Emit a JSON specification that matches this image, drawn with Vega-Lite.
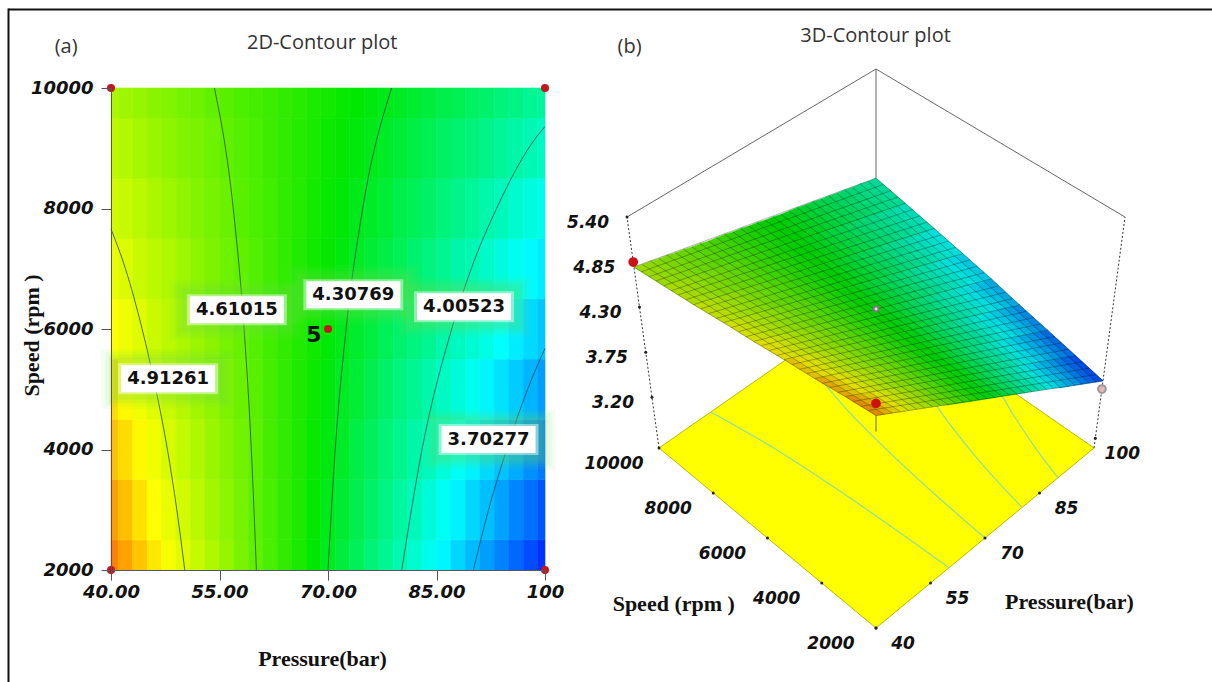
{
"$schema":"https://vega.github.io/schema/vega-lite/v6.json",
"width":1212,"height":682,"autosize":"none","padding":0,"background":"white",
"view":{"stroke":null},
"config":{"axis":{"grid":false},"style":{"cell":{"stroke":null}}},
"datasets":{
"nodes":[
{"p":40,"s":2000,"z":5.22},{"p":40,"s":3000,"z":5.17},{"p":40,"s":4000,"z":5.11},{"p":40,"s":5000,"z":5.06},{"p":40,"s":6000,"z":5.00},{"p":40,"s":7000,"z":4.95},{"p":40,"s":8000,"z":4.89},{"p":40,"s":9000,"z":4.84},{"p":40,"s":10000,"z":4.79},
{"p":42,"s":2000,"z":5.16},{"p":42,"s":3000,"z":5.11},{"p":42,"s":4000,"z":5.06},{"p":42,"s":5000,"z":5.01},{"p":42,"s":6000,"z":4.96},{"p":42,"s":7000,"z":4.91},{"p":42,"s":8000,"z":4.86},{"p":42,"s":9000,"z":4.81},{"p":42,"s":10000,"z":4.76},
{"p":44,"s":2000,"z":5.10},{"p":44,"s":3000,"z":5.05},{"p":44,"s":4000,"z":5.01},{"p":44,"s":5000,"z":4.96},{"p":44,"s":6000,"z":4.92},{"p":44,"s":7000,"z":4.87},{"p":44,"s":8000,"z":4.83},{"p":44,"s":9000,"z":4.78},{"p":44,"s":10000,"z":4.74},
{"p":46,"s":2000,"z":5.04},{"p":46,"s":3000,"z":5.00},{"p":46,"s":4000,"z":4.96},{"p":46,"s":5000,"z":4.92},{"p":46,"s":6000,"z":4.87},{"p":46,"s":7000,"z":4.83},{"p":46,"s":8000,"z":4.79},{"p":46,"s":9000,"z":4.75},{"p":46,"s":10000,"z":4.71},
{"p":48,"s":2000,"z":4.98},{"p":48,"s":3000,"z":4.94},{"p":48,"s":4000,"z":4.90},{"p":48,"s":5000,"z":4.87},{"p":48,"s":6000,"z":4.83},{"p":48,"s":7000,"z":4.80},{"p":48,"s":8000,"z":4.76},{"p":48,"s":9000,"z":4.72},{"p":48,"s":10000,"z":4.69},
{"p":50,"s":2000,"z":4.92},{"p":50,"s":3000,"z":4.89},{"p":50,"s":4000,"z":4.85},{"p":50,"s":5000,"z":4.82},{"p":50,"s":6000,"z":4.79},{"p":50,"s":7000,"z":4.76},{"p":50,"s":8000,"z":4.73},{"p":50,"s":9000,"z":4.69},{"p":50,"s":10000,"z":4.66},
{"p":52,"s":2000,"z":4.86},{"p":52,"s":3000,"z":4.83},{"p":52,"s":4000,"z":4.80},{"p":52,"s":5000,"z":4.77},{"p":52,"s":6000,"z":4.75},{"p":52,"s":7000,"z":4.72},{"p":52,"s":8000,"z":4.69},{"p":52,"s":9000,"z":4.67},{"p":52,"s":10000,"z":4.64},
{"p":54,"s":2000,"z":4.80},{"p":54,"s":3000,"z":4.77},{"p":54,"s":4000,"z":4.75},{"p":54,"s":5000,"z":4.73},{"p":54,"s":6000,"z":4.71},{"p":54,"s":7000,"z":4.68},{"p":54,"s":8000,"z":4.66},{"p":54,"s":9000,"z":4.64},{"p":54,"s":10000,"z":4.61},
{"p":56,"s":2000,"z":4.74},{"p":56,"s":3000,"z":4.72},{"p":56,"s":4000,"z":4.70},{"p":56,"s":5000,"z":4.68},{"p":56,"s":6000,"z":4.66},{"p":56,"s":7000,"z":4.64},{"p":56,"s":8000,"z":4.63},{"p":56,"s":9000,"z":4.61},{"p":56,"s":10000,"z":4.59},
{"p":58,"s":2000,"z":4.67},{"p":58,"s":3000,"z":4.66},{"p":58,"s":4000,"z":4.65},{"p":58,"s":5000,"z":4.63},{"p":58,"s":6000,"z":4.62},{"p":58,"s":7000,"z":4.61},{"p":58,"s":8000,"z":4.59},{"p":58,"s":9000,"z":4.58},{"p":58,"s":10000,"z":4.56},
{"p":60,"s":2000,"z":4.61},{"p":60,"s":3000,"z":4.60},{"p":60,"s":4000,"z":4.60},{"p":60,"s":5000,"z":4.59},{"p":60,"s":6000,"z":4.58},{"p":60,"s":7000,"z":4.57},{"p":60,"s":8000,"z":4.56},{"p":60,"s":9000,"z":4.55},{"p":60,"s":10000,"z":4.54},
{"p":62,"s":2000,"z":4.55},{"p":62,"s":3000,"z":4.55},{"p":62,"s":4000,"z":4.54},{"p":62,"s":5000,"z":4.54},{"p":62,"s":6000,"z":4.53},{"p":62,"s":7000,"z":4.53},{"p":62,"s":8000,"z":4.53},{"p":62,"s":9000,"z":4.52},{"p":62,"s":10000,"z":4.52},
{"p":64,"s":2000,"z":4.49},{"p":64,"s":3000,"z":4.49},{"p":64,"s":4000,"z":4.49},{"p":64,"s":5000,"z":4.49},{"p":64,"s":6000,"z":4.49},{"p":64,"s":7000,"z":4.49},{"p":64,"s":8000,"z":4.49},{"p":64,"s":9000,"z":4.49},{"p":64,"s":10000,"z":4.49},
{"p":66,"s":2000,"z":4.43},{"p":66,"s":3000,"z":4.44},{"p":66,"s":4000,"z":4.44},{"p":66,"s":5000,"z":4.44},{"p":66,"s":6000,"z":4.45},{"p":66,"s":7000,"z":4.45},{"p":66,"s":8000,"z":4.46},{"p":66,"s":9000,"z":4.46},{"p":66,"s":10000,"z":4.47},
{"p":68,"s":2000,"z":4.37},{"p":68,"s":3000,"z":4.38},{"p":68,"s":4000,"z":4.39},{"p":68,"s":5000,"z":4.40},{"p":68,"s":6000,"z":4.41},{"p":68,"s":7000,"z":4.41},{"p":68,"s":8000,"z":4.42},{"p":68,"s":9000,"z":4.43},{"p":68,"s":10000,"z":4.44},
{"p":70,"s":2000,"z":4.31},{"p":70,"s":3000,"z":4.32},{"p":70,"s":4000,"z":4.34},{"p":70,"s":5000,"z":4.35},{"p":70,"s":6000,"z":4.36},{"p":70,"s":7000,"z":4.38},{"p":70,"s":8000,"z":4.39},{"p":70,"s":9000,"z":4.40},{"p":70,"s":10000,"z":4.42},
{"p":72,"s":2000,"z":4.25},{"p":72,"s":3000,"z":4.27},{"p":72,"s":4000,"z":4.29},{"p":72,"s":5000,"z":4.30},{"p":72,"s":6000,"z":4.32},{"p":72,"s":7000,"z":4.34},{"p":72,"s":8000,"z":4.36},{"p":72,"s":9000,"z":4.38},{"p":72,"s":10000,"z":4.39},
{"p":74,"s":2000,"z":4.19},{"p":74,"s":3000,"z":4.21},{"p":74,"s":4000,"z":4.23},{"p":74,"s":5000,"z":4.26},{"p":74,"s":6000,"z":4.28},{"p":74,"s":7000,"z":4.30},{"p":74,"s":8000,"z":4.32},{"p":74,"s":9000,"z":4.35},{"p":74,"s":10000,"z":4.37},
{"p":76,"s":2000,"z":4.13},{"p":76,"s":3000,"z":4.16},{"p":76,"s":4000,"z":4.18},{"p":76,"s":5000,"z":4.21},{"p":76,"s":6000,"z":4.24},{"p":76,"s":7000,"z":4.26},{"p":76,"s":8000,"z":4.29},{"p":76,"s":9000,"z":4.32},{"p":76,"s":10000,"z":4.34},
{"p":78,"s":2000,"z":4.07},{"p":78,"s":3000,"z":4.10},{"p":78,"s":4000,"z":4.13},{"p":78,"s":5000,"z":4.16},{"p":78,"s":6000,"z":4.19},{"p":78,"s":7000,"z":4.23},{"p":78,"s":8000,"z":4.26},{"p":78,"s":9000,"z":4.29},{"p":78,"s":10000,"z":4.32},
{"p":80,"s":2000,"z":4.01},{"p":80,"s":3000,"z":4.04},{"p":80,"s":4000,"z":4.08},{"p":80,"s":5000,"z":4.11},{"p":80,"s":6000,"z":4.15},{"p":80,"s":7000,"z":4.19},{"p":80,"s":8000,"z":4.22},{"p":80,"s":9000,"z":4.26},{"p":80,"s":10000,"z":4.30},
{"p":82,"s":2000,"z":3.95},{"p":82,"s":3000,"z":3.99},{"p":82,"s":4000,"z":4.03},{"p":82,"s":5000,"z":4.07},{"p":82,"s":6000,"z":4.11},{"p":82,"s":7000,"z":4.15},{"p":82,"s":8000,"z":4.19},{"p":82,"s":9000,"z":4.23},{"p":82,"s":10000,"z":4.27},
{"p":84,"s":2000,"z":3.89},{"p":84,"s":3000,"z":3.93},{"p":84,"s":4000,"z":3.98},{"p":84,"s":5000,"z":4.02},{"p":84,"s":6000,"z":4.07},{"p":84,"s":7000,"z":4.11},{"p":84,"s":8000,"z":4.16},{"p":84,"s":9000,"z":4.20},{"p":84,"s":10000,"z":4.25},
{"p":86,"s":2000,"z":3.83},{"p":86,"s":3000,"z":3.87},{"p":86,"s":4000,"z":3.92},{"p":86,"s":5000,"z":3.97},{"p":86,"s":6000,"z":4.02},{"p":86,"s":7000,"z":4.07},{"p":86,"s":8000,"z":4.12},{"p":86,"s":9000,"z":4.17},{"p":86,"s":10000,"z":4.22},
{"p":88,"s":2000,"z":3.76},{"p":88,"s":3000,"z":3.82},{"p":88,"s":4000,"z":3.87},{"p":88,"s":5000,"z":3.93},{"p":88,"s":6000,"z":3.98},{"p":88,"s":7000,"z":4.03},{"p":88,"s":8000,"z":4.09},{"p":88,"s":9000,"z":4.14},{"p":88,"s":10000,"z":4.20},
{"p":90,"s":2000,"z":3.70},{"p":90,"s":3000,"z":3.76},{"p":90,"s":4000,"z":3.82},{"p":90,"s":5000,"z":3.88},{"p":90,"s":6000,"z":3.94},{"p":90,"s":7000,"z":4.00},{"p":90,"s":8000,"z":4.06},{"p":90,"s":9000,"z":4.12},{"p":90,"s":10000,"z":4.17},
{"p":92,"s":2000,"z":3.64},{"p":92,"s":3000,"z":3.71},{"p":92,"s":4000,"z":3.77},{"p":92,"s":5000,"z":3.83},{"p":92,"s":6000,"z":3.90},{"p":92,"s":7000,"z":3.96},{"p":92,"s":8000,"z":4.02},{"p":92,"s":9000,"z":4.09},{"p":92,"s":10000,"z":4.15},
{"p":94,"s":2000,"z":3.58},{"p":94,"s":3000,"z":3.65},{"p":94,"s":4000,"z":3.72},{"p":94,"s":5000,"z":3.79},{"p":94,"s":6000,"z":3.85},{"p":94,"s":7000,"z":3.92},{"p":94,"s":8000,"z":3.99},{"p":94,"s":9000,"z":4.06},{"p":94,"s":10000,"z":4.12},
{"p":96,"s":2000,"z":3.52},{"p":96,"s":3000,"z":3.59},{"p":96,"s":4000,"z":3.67},{"p":96,"s":5000,"z":3.74},{"p":96,"s":6000,"z":3.81},{"p":96,"s":7000,"z":3.88},{"p":96,"s":8000,"z":3.95},{"p":96,"s":9000,"z":4.03},{"p":96,"s":10000,"z":4.10},
{"p":98,"s":2000,"z":3.46},{"p":98,"s":3000,"z":3.54},{"p":98,"s":4000,"z":3.61},{"p":98,"s":5000,"z":3.69},{"p":98,"s":6000,"z":3.77},{"p":98,"s":7000,"z":3.84},{"p":98,"s":8000,"z":3.92},{"p":98,"s":9000,"z":4.00},{"p":98,"s":10000,"z":4.07},
{"p":100,"s":2000,"z":3.40},{"p":100,"s":3000,"z":3.48},{"p":100,"s":4000,"z":3.56},{"p":100,"s":5000,"z":3.64},{"p":100,"s":6000,"z":3.73},{"p":100,"s":7000,"z":3.81},{"p":100,"s":8000,"z":3.89},{"p":100,"s":9000,"z":3.97},{"p":100,"s":10000,"z":4.05}
],
"meshS":[
{"s":2000,"p":40,"z":5.22},{"s":2000,"p":100,"z":3.40},{"s":2250,"p":40,"z":5.21},{"s":2250,"p":100,"z":3.42},{"s":2500,"p":40,"z":5.19},{"s":2500,"p":100,"z":3.44},{"s":2750,"p":40,"z":5.18},{"s":2750,"p":100,"z":3.46},
{"s":3000,"p":40,"z":5.17},{"s":3000,"p":100,"z":3.48},{"s":3250,"p":40,"z":5.15},{"s":3250,"p":100,"z":3.50},{"s":3500,"p":40,"z":5.14},{"s":3500,"p":100,"z":3.52},{"s":3750,"p":40,"z":5.12},{"s":3750,"p":100,"z":3.54},
{"s":4000,"p":40,"z":5.11},{"s":4000,"p":100,"z":3.56},{"s":4250,"p":40,"z":5.10},{"s":4250,"p":100,"z":3.58},{"s":4500,"p":40,"z":5.08},{"s":4500,"p":100,"z":3.60},{"s":4750,"p":40,"z":5.07},{"s":4750,"p":100,"z":3.62},
{"s":5000,"p":40,"z":5.06},{"s":5000,"p":100,"z":3.64},{"s":5250,"p":40,"z":5.04},{"s":5250,"p":100,"z":3.66},{"s":5500,"p":40,"z":5.03},{"s":5500,"p":100,"z":3.68},{"s":5750,"p":40,"z":5.02},{"s":5750,"p":100,"z":3.70},
{"s":6000,"p":40,"z":5.00},{"s":6000,"p":100,"z":3.73},{"s":6250,"p":40,"z":4.99},{"s":6250,"p":100,"z":3.75},{"s":6500,"p":40,"z":4.98},{"s":6500,"p":100,"z":3.77},{"s":6750,"p":40,"z":4.96},{"s":6750,"p":100,"z":3.79},
{"s":7000,"p":40,"z":4.95},{"s":7000,"p":100,"z":3.81},{"s":7250,"p":40,"z":4.93},{"s":7250,"p":100,"z":3.83},{"s":7500,"p":40,"z":4.92},{"s":7500,"p":100,"z":3.85},{"s":7750,"p":40,"z":4.91},{"s":7750,"p":100,"z":3.87},
{"s":8000,"p":40,"z":4.89},{"s":8000,"p":100,"z":3.89},{"s":8250,"p":40,"z":4.88},{"s":8250,"p":100,"z":3.91},{"s":8500,"p":40,"z":4.87},{"s":8500,"p":100,"z":3.93},{"s":8750,"p":40,"z":4.85},{"s":8750,"p":100,"z":3.95},
{"s":9000,"p":40,"z":4.84},{"s":9000,"p":100,"z":3.97},{"s":9250,"p":40,"z":4.83},{"s":9250,"p":100,"z":3.99},{"s":9500,"p":40,"z":4.81},{"s":9500,"p":100,"z":4.01},{"s":9750,"p":40,"z":4.80},{"s":9750,"p":100,"z":4.03},
{"s":10000,"p":40,"z":4.79},{"s":10000,"p":100,"z":4.05}
],
"contours":[
{"L":4.91,"p":50.2,"s":2000},{"L":4.91,"p":49.1,"s":3000},{"L":4.91,"p":47.8,"s":4000},{"L":4.91,"p":46.2,"s":5000},{"L":4.91,"p":44.3,"s":6000},{"L":4.91,"p":42,"s":7000},{"L":4.91,"p":40,"s":7660},
{"L":4.61,"p":60.1,"s":2000},{"L":4.61,"p":59.4,"s":4000},{"L":4.61,"p":58.4,"s":6000},{"L":4.61,"p":56.9,"s":8000},{"L":4.61,"p":54.3,"s":10000},
{"L":4.31,"p":70,"s":2000},{"L":4.31,"p":71,"s":4000},{"L":4.31,"p":72.5,"s":6000},{"L":4.31,"p":74.8,"s":8000},{"L":4.31,"p":78.8,"s":10000},
{"L":4.0,"p":80.2,"s":2000},{"L":4.0,"p":83,"s":4000},{"L":4.0,"p":87.1,"s":6000},{"L":4.0,"p":89.8,"s":7000},{"L":4.0,"p":93.3,"s":8000},{"L":4.0,"p":98.9,"s":9200},{"L":4.0,"p":100,"s":9360},
{"L":3.7,"p":90.1,"s":2000},{"L":3.7,"p":92.2,"s":3000},{"L":3.7,"p":94.7,"s":4000},{"L":3.7,"p":97.6,"s":5000},{"L":3.7,"p":100,"s":5680}
],
"labels":[
{"p":47.9,"s":5176,"text":"4.91261"},{"p":57.4,"s":6320,"text":"4.61015"},{"p":73.5,"s":6568,"text":"4.30769"},{"p":88.8,"s":6370,"text":"4.00523"},{"p":92.2,"s":4165,"text":"3.70277"}
],
"design2d":[{"p":40,"s":2000},{"p":40,"s":10000},{"p":100,"s":2000},{"p":100,"s":10000},{"p":70,"s":6000}],
"design3d":[{"p":40,"s":2000,"z":5.37,"k":"a"},{"p":40,"s":10000,"z":4.85,"k":"a"},{"p":100,"s":2000,"z":3.30,"k":"b"},{"p":70,"s":6000,"z":4.38,"k":"c"}],
"floor":[{"p":40,"s":2000,"z":2.58,"c":0},{"p":100,"s":2000,"z":2.58,"c":1},{"p":100,"s":10000,"z":2.58,"c":2},{"p":40,"s":10000,"z":2.58,"c":3}],
"wire":[
{"e":"left","o":0,"p":40,"s":10000,"z":2.58},{"e":"left","o":1,"p":40,"s":10000,"z":5.4},
{"e":"right","o":0,"p":100,"s":2000,"z":2.58},{"e":"right","o":1,"p":100,"s":2000,"z":5.4}
],
"box":[
{"e":"topL","o":0,"p":40,"s":10000,"z":5.4},{"e":"topL","o":1,"p":100,"s":10000,"z":5.4},
{"e":"topR","o":0,"p":100,"s":2000,"z":5.4},{"e":"topR","o":1,"p":100,"s":10000,"z":5.4},
{"e":"back","o":0,"p":100,"s":10000,"z":5.4},{"e":"back","o":1,"p":100,"s":10000,"z":4.05},
{"e":"front","o":0,"p":40,"s":2000,"z":5.22},{"e":"front","o":1,"p":40,"s":2000,"z":5.02}
],
"speedTicks":[{"p":40,"s":2000,"z":2.58,"text":"2000"},{"p":40,"s":4000,"z":2.58,"text":"4000"},{"p":40,"s":6000,"z":2.58,"text":"6000"},{"p":40,"s":8000,"z":2.58,"text":"8000"},{"p":40,"s":10000,"z":2.58,"text":"10000"}],
"pressTicks":[{"p":40,"s":2000,"z":2.58,"text":"40"},{"p":55,"s":2000,"z":2.58,"text":"55"},{"p":70,"s":2000,"z":2.58,"text":"70"},{"p":85,"s":2000,"z":2.58,"text":"85"},{"p":100,"s":2000,"z":2.7,"text":"100"}],
"zTicks":[{"p":40,"s":10000,"z":5.4,"text":"5.40"},{"p":40,"s":10000,"z":4.85,"text":"4.85"},{"p":40,"s":10000,"z":4.3,"text":"4.30"},{"p":40,"s":10000,"z":3.75,"text":"3.75"},{"p":40,"s":10000,"z":3.2,"text":"3.20"}],
"annotSans":[{"p":33.8,"s":10680,"text":"(a)"},{"p":69.2,"s":10747,"text":"2D-Contour plot"},{"p":111.7,"s":10680,"text":"(b)"},{"p":145.7,"s":10863,"text":"3D-Contour plot"}],
"annotSerif":[{"p":117.8,"s":1436,"text":"Speed (rpm )"},{"p":172.5,"s":1469,"text":"Pressure(bar)"}],
"five":[{"p":68.06,"s":5900,"text":"5"}]
},
"layer":[
{
"layer":[
{"data":{"name":"nodes"},
 "transform":[{"calculate":"max(40,datum.p-1)","as":"x0"},{"calculate":"min(100,datum.p+1)","as":"x1"},{"calculate":"max(2000,datum.s-500)","as":"y0"},{"calculate":"min(10000,datum.s+500)","as":"y1"}],
 "mark":{"type":"rect","strokeWidth":0.6},
 "encoding":{
  "x":{"field":"x0","type":"quantitative","scale":{"domain":[40,100],"range":[111,545],"nice":false,"zero":false},
   "axis":{"orient":"bottom","offset":-112,"zindex":1,"title":"Pressure(bar)","titleFont":"Liberation Serif","titleFontSize":22,"titleFontWeight":"bold","titleColor":"#111","titlePadding":47,"titleX":322,"values":[40,55,70,85,100],"labelExpr":"datum.value==100?'100':format(datum.value,'.2f')","labelFont":"DejaVu Sans","labelFontStyle":"italic","labelFontWeight":"bold","labelFontSize":18,"labelColor":"#111","labelPadding":3,"tickSize":10,"tickColor":"#555","domainColor":"#556","labelFlush":false,"labelOverlap":false}},
  "x2":{"field":"x1"},
  "y":{"field":"y0","type":"quantitative","scale":{"domain":[2000,10000],"range":[570,88],"nice":false,"zero":false},
   "axis":{"orient":"left","offset":-111,"zindex":1,"title":"Speed (rpm )","titleFont":"Liberation Serif","titleFontSize":22,"titleFontWeight":"bold","titleColor":"#111","titlePadding":-13,"titleY":335,"values":[2000,4000,6000,8000,10000],"format":"d","labelFont":"DejaVu Sans","labelFontStyle":"italic","labelFontWeight":"bold","labelFontSize":18,"labelColor":"#111","labelPadding":8,"tickSize":10,"tickColor":"#555","domainColor":"#556","labelOverlap":false}},
  "y2":{"field":"y1"},
  "color":{"field":"z","type":"quantitative","legend":null,"scale":{"domain":[3.4,3.85,4.37,5.0,5.44],"range":["#0030ff","#00ffff","#00e800","#ffff00","#ff0000"],"interpolate":"rgb"}},
  "stroke":{"field":"z","type":"quantitative","legend":null,"scale":{"domain":[3.4,3.85,4.37,5.0,5.44],"range":["#0030ff","#00ffff","#00e800","#ffff00","#ff0000"],"interpolate":"rgb"}}
 }},
{"data":{"name":"contours"},
 "mark":{"type":"line","interpolate":"monotone","stroke":"#2c4a55","strokeWidth":1,"opacity":0.8},
 "encoding":{"x":{"field":"p","type":"quantitative","scale":{"domain":[40,100],"range":[111,545],"nice":false,"zero":false}},"y":{"field":"s","type":"quantitative","scale":{"domain":[2000,10000],"range":[570,88],"nice":false,"zero":false}},"detail":{"field":"L"},"order":{"field":"s"}}},
{"data":{"name":"labels"},
 "encoding":{"x":{"field":"p","type":"quantitative","scale":{"domain":[40,100],"range":[111,545],"nice":false,"zero":false}},"y":{"field":"s","type":"quantitative","scale":{"domain":[2000,10000],"range":[570,88],"nice":false,"zero":false}}},
 "layer":[
  {"mark":{"type":"rect","width":134,"height":60,"fill":"#6fdc4a","opacity":0.07}},
  {"mark":{"type":"rect","width":126,"height":54,"fill":"#6fdc4a","opacity":0.09}},
  {"mark":{"type":"rect","width":118,"height":48,"fill":"#6fdc4a","opacity":0.11}},
  {"mark":{"type":"rect","width":110,"height":42,"fill":"#6fdc4a","opacity":0.13}},
  {"mark":{"type":"rect","width":100,"height":31,"fill":"#ffffff","opacity":0.45}},
  {"mark":{"type":"rect","width":94,"height":27,"fill":"#ffffff"}},
  {"mark":{"type":"text","font":"DejaVu Sans","fontWeight":"bold","fontSize":18,"fill":"#111"},"encoding":{"text":{"field":"text"}}}
 ]},
{"data":{"name":"design2d"},
 "mark":{"type":"point","filled":true,"size":64,"fill":"#c4161c","opacity":1},
 "encoding":{"x":{"field":"p","type":"quantitative","scale":{"domain":[40,100],"range":[111,545],"nice":false,"zero":false}},"y":{"field":"s","type":"quantitative","scale":{"domain":[2000,10000],"range":[570,88],"nice":false,"zero":false}}}},
{"data":{"name":"five"},
 "mark":{"type":"text","font":"DejaVu Sans","fontWeight":"bold","fontSize":22,"fill":"#111"},
 "encoding":{"x":{"field":"p","type":"quantitative","scale":{"domain":[40,100],"range":[111,545],"nice":false,"zero":false}},"y":{"field":"s","type":"quantitative","scale":{"domain":[2000,10000],"range":[570,88],"nice":false,"zero":false}},"text":{"field":"text"}}},
{"data":{"name":"annotSans"},
 "mark":{"type":"text","font":"Open Sans","fontSize":20,"fill":"#333"},
 "encoding":{"x":{"field":"p","type":"quantitative","scale":{"domain":[40,100],"range":[111,545],"nice":false,"zero":false}},"y":{"field":"s","type":"quantitative","scale":{"domain":[2000,10000],"range":[570,88],"nice":false,"zero":false}},"text":{"field":"text"}}},
{"data":{"name":"annotSerif"},
 "mark":{"type":"text","font":"Liberation Serif","fontWeight":"bold","fontSize":22,"fill":"#111"},
 "encoding":{"x":{"field":"p","type":"quantitative","scale":{"domain":[40,100],"range":[111,545],"nice":false,"zero":false}},"y":{"field":"s","type":"quantitative","scale":{"domain":[2000,10000],"range":[570,88],"nice":false,"zero":false}},"text":{"field":"text"}}}
]},
{
"encoding":{
 "x":{"field":"sx","type":"quantitative","scale":{"domain":[8,1212],"range":[8,1212],"nice":false,"zero":false}},
 "y":{"field":"sy","type":"quantitative","scale":{"domain":[8,682],"range":[8,682],"nice":false,"zero":false}}
},
"layer":[
{"data":{"name":"floor"},
 "transform":[{"calculate":"(datum.p-40)/60","as":"u"},{"calculate":"(datum.s-2000)/8000","as":"t"},{"calculate":"(datum.z-2.58)/2.82","as":"h"},{"calculate":"876-217*datum.t+218*datum.u-datum.u*datum.t+datum.h*(-32*datum.t+31*datum.u+datum.u*datum.t)","as":"sx"},{"calculate":"628-180*datum.t-180*datum.u+29*datum.u*datum.t+datum.h*(-227-4*datum.t-4*datum.u+7*datum.u*datum.t)","as":"sy"}],
 "mark":{"type":"line","filled":true,"interpolate":"linear-closed","fill":"#ffff00","stroke":"#b8b800","strokeWidth":1},
 "encoding":{"order":{"field":"c"},
  "x":{"field":"sx","type":"quantitative","scale":{"domain":[8,1212],"range":[8,1212],"nice":false,"zero":false},
   "axis":{"orient":"top","offset":-9,"labels":false,"ticks":false,"title":null,"domainColor":"#111","domainWidth":2}},
  "y":{"field":"sy","type":"quantitative","scale":{"domain":[8,682],"range":[8,682],"nice":false,"zero":false},
   "axis":{"orient":"left","offset":-8,"labels":false,"ticks":false,"title":null,"domainColor":"#111","domainWidth":2}}}},
{"data":{"name":"contours"},
 "transform":[{"filter":"datum.L<4.9"},{"calculate":"2.58","as":"z"},{"calculate":"(datum.p-40)/60","as":"u"},{"calculate":"(datum.s-2000)/8000","as":"t"},{"calculate":"(datum.z-2.58)/2.82","as":"h"},{"calculate":"876-217*datum.t+218*datum.u-datum.u*datum.t+datum.h*(-32*datum.t+31*datum.u+datum.u*datum.t)","as":"sx"},{"calculate":"628-180*datum.t-180*datum.u+29*datum.u*datum.t+datum.h*(-227-4*datum.t-4*datum.u+7*datum.u*datum.t)","as":"sy"}],
 "mark":{"type":"line","interpolate":"monotone","stroke":"#8edca0","strokeWidth":1.2},
 "encoding":{"detail":{"field":"L"},"order":{"field":"s"}}},
{"data":{"name":"wire"},
 "transform":[{"calculate":"(datum.p-40)/60","as":"u"},{"calculate":"(datum.s-2000)/8000","as":"t"},{"calculate":"(datum.z-2.58)/2.82","as":"h"},{"calculate":"876-217*datum.t+218*datum.u-datum.u*datum.t+datum.h*(-32*datum.t+31*datum.u+datum.u*datum.t)","as":"sx"},{"calculate":"628-180*datum.t-180*datum.u+29*datum.u*datum.t+datum.h*(-227-4*datum.t-4*datum.u+7*datum.u*datum.t)","as":"sy"}],
 "mark":{"type":"line","stroke":"#333","strokeWidth":1,"strokeDash":[2,2]},
 "encoding":{"detail":{"field":"e"},"order":{"field":"o"}}},
{"data":{"name":"box"},
 "transform":[{"calculate":"(datum.p-40)/60","as":"u"},{"calculate":"(datum.s-2000)/8000","as":"t"},{"calculate":"(datum.z-2.58)/2.82","as":"h"},{"calculate":"876-217*datum.t+218*datum.u-datum.u*datum.t+datum.h*(-32*datum.t+31*datum.u+datum.u*datum.t)","as":"sx"},{"calculate":"628-180*datum.t-180*datum.u+29*datum.u*datum.t+datum.h*(-227-4*datum.t-4*datum.u+7*datum.u*datum.t)","as":"sy"}],
 "mark":{"type":"line","stroke":"#666","strokeWidth":1},
 "encoding":{"detail":{"field":"e"},"order":{"field":"o"}}},
{"data":{"name":"speedTicks"},
 "transform":[{"calculate":"(datum.p-40)/60","as":"u"},{"calculate":"(datum.s-2000)/8000","as":"t"},{"calculate":"(datum.z-2.58)/2.82","as":"h"},{"calculate":"876-217*datum.t+218*datum.u-datum.u*datum.t+datum.h*(-32*datum.t+31*datum.u+datum.u*datum.t)","as":"sx"},{"calculate":"628-180*datum.t-180*datum.u+29*datum.u*datum.t+datum.h*(-227-4*datum.t-4*datum.u+7*datum.u*datum.t)","as":"sy"}],
 "layer":[
  {"mark":{"type":"point","filled":true,"size":9,"fill":"#222","opacity":1}},
  {"mark":{"type":"text","dx":-45,"dy":16,"font":"DejaVu Sans","fontStyle":"italic","fontWeight":"bold","fontSize":17,"fill":"#111"},"encoding":{"text":{"field":"text"}}}]},
{"data":{"name":"pressTicks"},
 "transform":[{"calculate":"(datum.p-40)/60","as":"u"},{"calculate":"(datum.s-2000)/8000","as":"t"},{"calculate":"(datum.z-2.58)/2.82","as":"h"},{"calculate":"876-217*datum.t+218*datum.u-datum.u*datum.t+datum.h*(-32*datum.t+31*datum.u+datum.u*datum.t)","as":"sx"},{"calculate":"628-180*datum.t-180*datum.u+29*datum.u*datum.t+datum.h*(-227-4*datum.t-4*datum.u+7*datum.u*datum.t)","as":"sy"}],
 "layer":[
  {"mark":{"type":"point","filled":true,"size":9,"fill":"#222","opacity":1}},
  {"mark":{"type":"text","dx":27,"dy":16,"font":"DejaVu Sans","fontStyle":"italic","fontWeight":"bold","fontSize":17,"fill":"#111"},"encoding":{"text":{"field":"text"}}}]},
{"data":{"name":"zTicks"},
 "transform":[{"calculate":"(datum.p-40)/60","as":"u"},{"calculate":"(datum.s-2000)/8000","as":"t"},{"calculate":"(datum.z-2.58)/2.82","as":"h"},{"calculate":"876-217*datum.t+218*datum.u-datum.u*datum.t+datum.h*(-32*datum.t+31*datum.u+datum.u*datum.t)","as":"sx"},{"calculate":"628-180*datum.t-180*datum.u+29*datum.u*datum.t+datum.h*(-227-4*datum.t-4*datum.u+7*datum.u*datum.t)","as":"sy"}],
 "layer":[
  {"mark":{"type":"point","filled":true,"size":9,"fill":"#222","opacity":1}},
  {"mark":{"type":"text","align":"right","dx":-18,"dy":6,"font":"DejaVu Sans","fontStyle":"italic","fontWeight":"bold","fontSize":17,"fill":"#111"},"encoding":{"text":{"field":"text"}}}]},
{"data":{"name":"nodes"},
 "transform":[
  {"window":[{"op":"lead","field":"z","as":"zr"}],"groupby":["s"],"sort":[{"field":"p","order":"ascending"}]},
  {"window":[{"op":"lead","field":"z","as":"zu"},{"op":"lead","field":"zr","as":"zru"}],"groupby":["p"],"sort":[{"field":"s","order":"ascending"}]},
  {"filter":"isValid(datum.zru)"},
  {"calculate":"(datum.z+datum.zr+datum.zu+datum.zru)/4","as":"zm"},
  {"calculate":"datum.p+'_'+datum.s","as":"id"},
  {"calculate":"[0,1,2,3]","as":"c"},
  {"flatten":["c"]},
  {"calculate":"[datum.z,datum.zr,datum.zru,datum.zu][datum.c]","as":"zc"},
  {"calculate":"(datum.p+((datum.c==1||datum.c==2)?2:0)-40)/60","as":"u"},
  {"calculate":"(datum.s+(datum.c>=2?1000:0)-2000)/8000","as":"t"},
  {"calculate":"(datum.zc-2.58)/2.82","as":"h"},
  {"calculate":"876-217*datum.t+218*datum.u-datum.u*datum.t+datum.h*(-32*datum.t+31*datum.u+datum.u*datum.t)","as":"sx"},
  {"calculate":"628-180*datum.t-180*datum.u+29*datum.u*datum.t+datum.h*(-227-4*datum.t-4*datum.u+7*datum.u*datum.t)","as":"sy"}
 ],
 "mark":{"type":"line","filled":true,"interpolate":"linear-closed","strokeWidth":0.6},
 "encoding":{"detail":{"field":"id"},"order":{"field":"c"},
  "color":{"field":"zm","type":"quantitative","legend":null,"scale":{"domain":[3.4,3.85,4.37,5.0,5.44],"range":["#0030e0","#00e0e0","#00cc00","#e0e000","#e00000"],"interpolate":"rgb"}},
  "stroke":{"field":"zm","type":"quantitative","legend":null,"scale":{"domain":[3.4,3.85,4.37,5.0,5.44],"range":["#0030e0","#00e0e0","#00cc00","#e0e000","#e00000"],"interpolate":"rgb"}}}},
{"data":{"name":"nodes"},
 "transform":[{"calculate":"(datum.p-40)/60","as":"u"},{"calculate":"(datum.s-2000)/8000","as":"t"},{"calculate":"(datum.z-2.58)/2.82","as":"h"},{"calculate":"876-217*datum.t+218*datum.u-datum.u*datum.t+datum.h*(-32*datum.t+31*datum.u+datum.u*datum.t)","as":"sx"},{"calculate":"628-180*datum.t-180*datum.u+29*datum.u*datum.t+datum.h*(-227-4*datum.t-4*datum.u+7*datum.u*datum.t)","as":"sy"}],
 "mark":{"type":"line","stroke":"#000","strokeWidth":0.7,"opacity":0.42},
 "encoding":{"detail":{"field":"p"},"order":{"field":"s"}}},
{"data":{"name":"meshS"},
 "transform":[{"calculate":"(datum.p-40)/60","as":"u"},{"calculate":"(datum.s-2000)/8000","as":"t"},{"calculate":"(datum.z-2.58)/2.82","as":"h"},{"calculate":"876-217*datum.t+218*datum.u-datum.u*datum.t+datum.h*(-32*datum.t+31*datum.u+datum.u*datum.t)","as":"sx"},{"calculate":"628-180*datum.t-180*datum.u+29*datum.u*datum.t+datum.h*(-227-4*datum.t-4*datum.u+7*datum.u*datum.t)","as":"sy"}],
 "mark":{"type":"line","stroke":"#000","strokeWidth":0.7,"opacity":0.42},
 "encoding":{"detail":{"field":"s"},"order":{"field":"p"}}},
{"data":{"name":"design3d"},
 "transform":[{"calculate":"(datum.p-40)/60","as":"u"},{"calculate":"(datum.s-2000)/8000","as":"t"},{"calculate":"(datum.z-2.58)/2.82","as":"h"},{"calculate":"876-217*datum.t+218*datum.u-datum.u*datum.t+datum.h*(-32*datum.t+31*datum.u+datum.u*datum.t)","as":"sx"},{"calculate":"628-180*datum.t-180*datum.u+29*datum.u*datum.t+datum.h*(-227-4*datum.t-4*datum.u+7*datum.u*datum.t)","as":"sy"}],
 "mark":{"type":"point","filled":true,"opacity":1},
 "encoding":{"fill":{"condition":[{"test":"datum.k=='b'","value":"#e8b4b4"},{"test":"datum.k=='c'","value":"#dddddd"}],"value":"#d01015"},"size":{"condition":{"test":"datum.k=='c'","value":26},"value":60},"stroke":{"condition":[{"test":"datum.k=='b'","value":"#999999"},{"test":"datum.k=='c'","value":"#777777"}],"value":"#d01015"}}}
]}
],
"resolve":{"scale":{"x":"independent","y":"independent","color":"independent","stroke":"independent"}}
}
